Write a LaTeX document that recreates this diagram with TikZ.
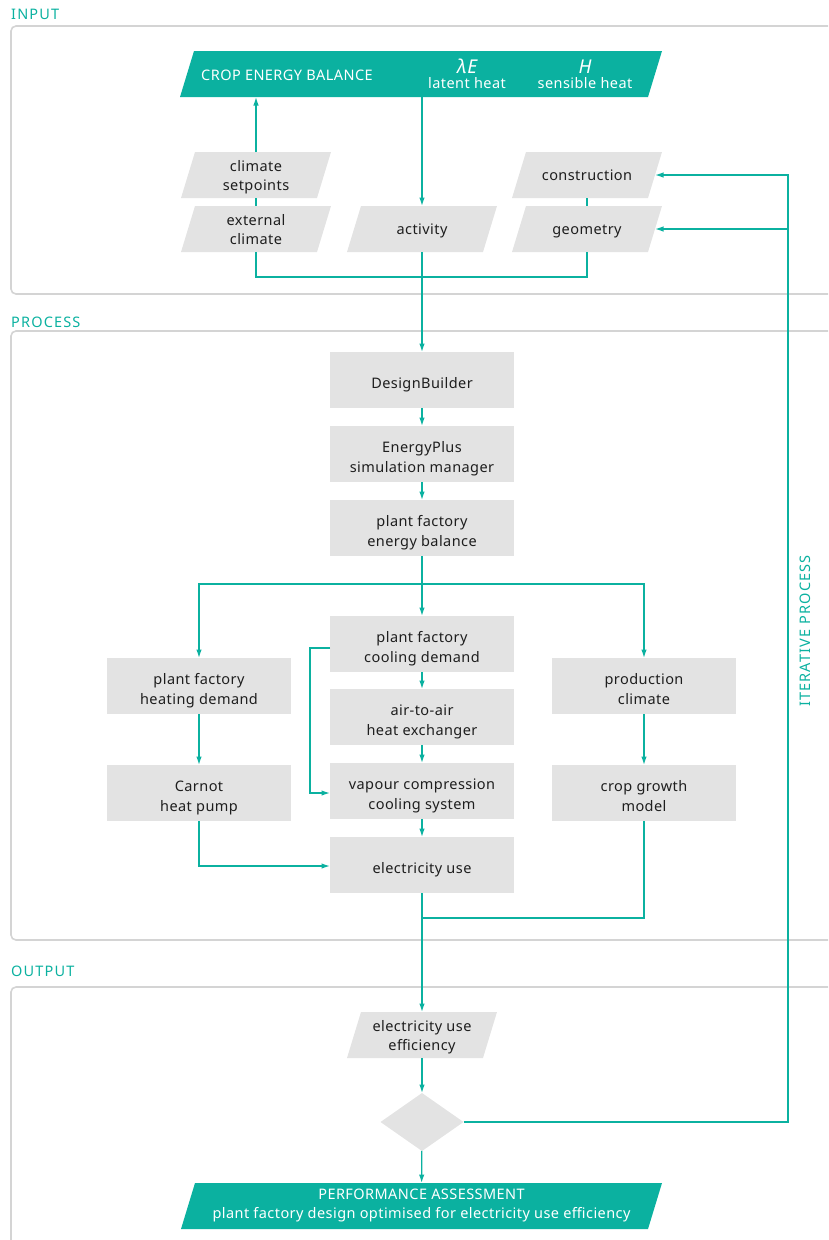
\documentclass[tikz,border=0pt]{standalone}
\usepackage{fontspec}
\setmainfont[LetterSpace=3]{Noto Sans}
\newfontfamily\spacedfont[LetterSpace=8]{Noto Sans}
\usetikzlibrary{shapes.geometric,arrows.meta,backgrounds}
\definecolor{tealc}{HTML}{0BB1A0}
\definecolor{boxgray}{HTML}{E3E3E3}
\definecolor{framegray}{HTML}{D4D4D4}
\definecolor{textc}{HTML}{1E1E1E}
\newcommand{\parafill}[2]{\fill[#2] ([xshift=-7pt]#1.south west) -- ([xshift=7pt]#1.north west) -- ([xshift=7pt]#1.north east) -- ([xshift=-7pt]#1.south east) -- cycle;}
\begin{document}
\begin{tikzpicture}[x=1pt,y=-1pt,
  box/.style={rectangle, fill=boxgray, minimum width=184pt, minimum height=56pt, inner sep=0pt, outer sep=0pt, align=center, text=textc, font=\fontsize{14.5}{20}\selectfont, text height=40pt, text depth=2.5pt},
  bone/.style={text height=20pt, text depth=2.5pt},
  para/.style={rectangle, minimum width=136pt, minimum height=46pt, inner sep=0pt, outer sep=0pt, align=center, text=textc, font=\fontsize{14.5}{19}\selectfont, text height=34pt, text depth=3.5pt},
  pone/.style={text height=14pt, text depth=4pt},
  tpara/.style={rectangle, minimum height=46pt, inner sep=0pt, outer sep=0pt, minimum width=468pt},
  wlabel/.style={text=white, align=center, inner sep=0pt, font=\fontsize{14.5}{19}\selectfont},
  seclabel/.style={text=tealc, anchor=west, inner sep=0pt, font=\spacedfont\fontsize{14.5}{15}\selectfont},
  frame/.style={draw=framegray, line width=1.6pt, rounded corners=5pt},
  conn/.style={draw=tealc, line width=1.3pt},
  arr/.style={conn, -{Latex[length=8.5pt,width=5.5pt]}}
]
\useasboundingbox (0,0) rectangle (828,1240);
\clip (0,0) rectangle (828,1240);

% section frames and labels
\draw[frame] (11,26) rectangle (870,294);
\draw[frame] (11,331) rectangle (870,940);
\draw[frame] (11,987) rectangle (870,1280);
\node[seclabel] (lin) at (11,14) {INPUT};
\node[seclabel] (lpr) at (11,322) {PROCESS};
\node[seclabel] (lout) at (11,971) {OUTPUT};

% INPUT
\node[tpara] (ceb) at (421,74) {};
\node[wlabel] (cebt) at (287,75) {CROP ENERGY BALANCE};
\node[wlabel] (le) at (467,74) {{\fontsize{19}{19}\selectfont\itshape λE}\\[-4pt]latent heat};
\node[wlabel] (sh) at (585,74) {{\fontsize{19}{19}\selectfont\itshape H}\\[-4pt]sensible heat};

\node[para] (cs) at (256,175) {climate\\setpoints};
\node[para] (ec) at (256,229) {external\\climate};
\node[para, pone] (act) at (422,229) {activity};
\node[para, pone] (con) at (587,175) {construction};
\node[para, pone] (geo) at (587,229) {geometry};

% PROCESS
\node[box, bone] (db) at (422,380) {DesignBuilder};
\node[box] (ep) at (422,454) {EnergyPlus\\simulation manager};
\node[box] (pfeb) at (422,528) {plant factory\\energy balance};
\node[box] (cool) at (422,644) {plant factory\\cooling demand};
\node[box] (air) at (422,717) {air-to-air\\heat exchanger};
\node[box] (vap) at (422,791) {vapour compression\\cooling system};
\node[box, bone] (elec) at (422,865) {electricity use};
\node[box] (heat) at (199,686) {plant factory\\heating demand};
\node[box] (carn) at (199,793) {Carnot\\heat pump};
\node[box] (prod) at (644,686) {production\\climate};
\node[box] (crop) at (644,793) {crop growth\\model};

% OUTPUT
\node[para] (eff) at (422,1035) {electricity use\\efficiency};
\node[diamond, fill=boxgray, minimum width=83pt, minimum height=58pt, inner sep=0pt, outer sep=0pt] (dia) at (422,1122) {};
\node[tpara, minimum width=467pt] (pa) at (421.5,1206) {};
\node[wlabel] (pat) at (421.5,1205) {PERFORMANCE ASSESSMENT\\plant factory design optimised for electricity use efficiency};

\node[text=tealc, rotate=90, inner sep=0pt, font=\spacedfont\fontsize{14.5}{15}\selectfont] (itp) at (805,631) {ITERATIVE PROCESS};

\begin{scope}[on background layer]
\parafill{ceb}{tealc}
\parafill{pa}{tealc}
\parafill{cs}{boxgray}
\parafill{ec}{boxgray}
\parafill{act}{boxgray}
\parafill{con}{boxgray}
\parafill{geo}{boxgray}
\parafill{eff}{boxgray}
\end{scope}

% coordinates
\coordinate (jin) at (422,277);
\coordinate (br) at (422,584);
\coordinate (jout) at (422,918);
\coordinate (it1) at (788,1122);
\coordinate (it2) at (788,229);

% INPUT connectors
\draw[arr] (cs.north) -- (cs.north |- ceb.south);
\draw[conn] (cs.south) -- (ec.north);
\draw[conn] (con.south) -- (geo.north);
\draw[arr] (ceb.south -| act.north) -- (act.north);
\draw[conn] (ec.south) |- (jin) -| (geo.south);
\draw[arr] (act.south) -- (db.north);

% PROCESS connectors
\draw[arr] (db) -- (ep);
\draw[arr] (ep) -- (pfeb);
\draw[arr] (pfeb) -- (cool);
\draw[arr] (br) -| (heat.north);
\draw[arr] (br) -| (prod.north);
\draw[arr] (cool) -- (air);
\draw[arr] (air) -- (vap);
\draw[arr] (vap) -- (elec);
\draw[arr] ([yshift=-4pt]cool.west) -- ++(-20,0) |- ([yshift=-2pt]vap.west);
\draw[arr] (heat) -- (carn);
\draw[arr] (carn.south) |- ([yshift=-1pt]elec.west);
\draw[arr] (prod) -- (crop);
\draw[conn] (crop.south) |- (jout);

% OUTPUT connectors
\draw[arr] (elec.south) -- (eff.north);
\draw[arr] (eff) -- (dia);
\draw[arr] (dia) -- (pa);
\draw[arr] (dia.east) -- (it1) |- (con);
\draw[arr] (it2) -- (geo);
\end{tikzpicture}
\end{document}
